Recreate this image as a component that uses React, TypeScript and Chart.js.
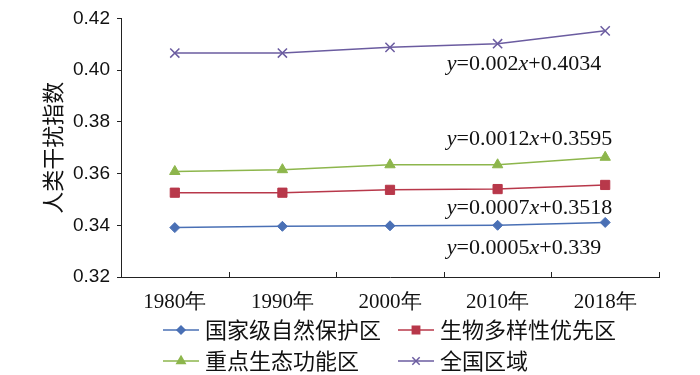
import React, { useEffect, useRef } from "react";
import { Chart, registerables } from "chart.js";
import { drawPoint } from "chart.js/helpers";

Chart.register(...registerables);

const categories = ["1980年", "1990年", "2000年", "2010年", "2018年"];
const seriesNames = ["国家级自然保护区", "生物多样性优先区", "重点生态功能区", "全国区域"];
const natureReserve = [0.3391, 0.3396, 0.3398, 0.34, 0.3411];
const biodiversity = [0.3526, 0.3526, 0.3537, 0.354, 0.3556];
const ecoFunction = [0.3608, 0.3615, 0.3634, 0.3634, 0.3663];
const nationwide = [0.4066, 0.4066, 0.4088, 0.4102, 0.4152];
const yTicks = [0.32, 0.34, 0.36, 0.38, 0.4, 0.42];
const equations = [
  { slope: "0.0005", intercept: "0.339", yPos: 0.3311 },
  { slope: "0.0007", intercept: "0.3518", yPos: 0.3467 },
  { slope: "0.0012", intercept: "0.3595", yPos: 0.3734 },
  { slope: "0.002", intercept: "0.4034", yPos: 0.4021 },
];

const colors = ["#4a70b5", "#b8384a", "#8db64c", "#6b5ca0"];
const pointStyles = ["rectRot", "rect", "triangle", "crossRot"];
const pointRadii = [5, 6.5, 6, 6.5];
const seriesData = [natureReserve, biodiversity, ecoFunction, nationwide];

const SERIF = "'Liberation Serif', 'Times New Roman', serif";
const SANS = "'Liberation Sans', Arial, sans-serif";
const CJK = "'Noto Sans CJK SC', sans-serif";

const decorPlugin = {
  id: "decor",
  afterDraw(chart: any) {
    const ctx = chart.ctx;
    const area = chart.chartArea;
    const xs = chart.scales.x;
    const ys = chart.scales.y;
    ctx.save();
    // inward x-axis ticks at category boundaries
    ctx.strokeStyle = "#222";
    ctx.lineWidth = 1;
    const n = categories.length;
    const step = xs.getPixelForValue(1) - xs.getPixelForValue(0);
    for (let i = 0; i < n; i++) {
      const px = Math.round(xs.getPixelForValue(i) + step / 2) + 0.5;
      ctx.beginPath();
      ctx.moveTo(px, area.bottom);
      ctx.lineTo(px, area.bottom - 5);
      ctx.stroke();
    }
    // regression equations
    const ex = (xs.getPixelForValue(2) + xs.getPixelForValue(3)) / 2 + 3;
    ctx.fillStyle = "#111";
    ctx.textBaseline = "middle";
    ctx.textAlign = "left";
    for (const eq of equations) {
      const py = ys.getPixelForValue(eq.yPos);
      let cx = ex;
      const parts: [string, boolean][] = [
        ["y", true],
        ["=" + eq.slope, false],
        ["x", true],
        ["+" + eq.intercept, false],
      ];
      for (const [t, it] of parts) {
        ctx.font = (it ? "italic " : "") + "22px " + SERIF;
        ctx.fillText(t, cx, py);
        cx += ctx.measureText(t).width;
      }
    }
    // legend
    const rows = [area.bottom + 53, area.bottom + 84];
    const cols = [163, 398];
    for (let i = 0; i < seriesNames.length; i++) {
      const lx = cols[i % 2];
      const ly = rows[Math.floor(i / 2)];
      ctx.strokeStyle = colors[i];
      ctx.lineWidth = 1.5;
      ctx.beginPath();
      ctx.moveTo(lx, ly);
      ctx.lineTo(lx + 36, ly);
      ctx.stroke();
      const opts: any = {
        pointStyle: pointStyles[i],
        radius: pointRadii[i] * 0.8,
        borderWidth: 1.5,
        rotation: 0,
      };
      ctx.fillStyle = colors[i];
      drawPoint(ctx, opts, lx + 18, ly);
      ctx.font = "22px " + CJK;
      ctx.fillStyle = "#111";
      ctx.textBaseline = "middle";
      ctx.textAlign = "left";
      ctx.fillText(seriesNames[i], lx + 42, ly);
    }
    ctx.restore();
  },
};

export default function App() {
  const ref = useRef<HTMLCanvasElement>(null);
  useEffect(() => {
    const chart = new Chart(ref.current!, {
      type: "line",
      data: {
        labels: categories,
        datasets: seriesNames.map((name, i) => ({
          label: name,
          data: seriesData[i],
          borderColor: colors[i],
          backgroundColor: colors[i],
          borderWidth: 1.5,
          pointStyle: pointStyles[i] as any,
          pointRadius: pointRadii[i],
          pointBorderWidth: i === 3 ? 1.5 : 1,
          tension: 0,
        })),
      },
      options: {
        responsive: false,
        animation: false,
        layout: { padding: { top: 15, right: 41, left: 0, bottom: 0 } },
        plugins: { legend: { display: false }, tooltip: { enabled: false } },
        scales: {
          x: {
            offset: true,
            grid: { display: false, offset: true },
            border: { color: "#222", width: 1 },
            ticks: {
              color: "#111",
              font: { family: SERIF, size: 21 },
              padding: 5,
              maxRotation: 0,
            },
            afterFit(scale: any) {
              scale.height = 98;
            },
          },
          y: {
            min: 0.32,
            max: 0.42,
            afterBuildTicks(scale: any) {
              scale.ticks = yTicks.map((v) => ({ value: v }));
            },
            grid: { drawOnChartArea: false, tickLength: 4, color: "#222" },
            border: { color: "#222", width: 1 },
            ticks: {
              color: "#111",
              font: { family: SANS, size: 19 },
              padding: 7,
              callback: (v: any) => Number(v).toFixed(2),
            },
            title: {
              display: true,
              text: "人类干扰指数",
              color: "#111",
              font: { family: CJK, size: 22 },
              padding: { top: 39, bottom: 0 },
            },
            afterFit(scale: any) {
              scale.width = 121;
            },
          },
        },
      },
      plugins: [decorPlugin],
    });
    return () => chart.destroy();
  }, []);
  return (
    <div style={{ position: "absolute", left: 0, top: 0, width: 700, height: 375, background: "#fff" }}>
      <canvas ref={ref} width={700} height={375} style={{ display: "block" }} />
    </div>
  );
}
